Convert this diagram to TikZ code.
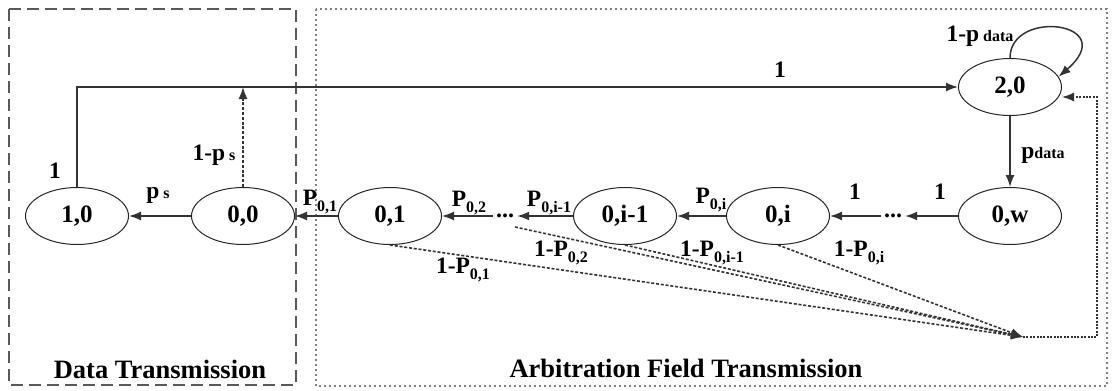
\documentclass[tikz,border=0pt]{standalone}
\usepackage{fontspec}
\setmainfont{Liberation Serif}
\usetikzlibrary{arrows.meta,shapes.geometric}
% subscripts: lowered (for P_{0,j}) and on the baseline (for p_s, p_data)
\newcommand\lowsub[1]{\raisebox{-0.28em}{\fontsize{16}{16}\selectfont #1}}
\newcommand\basesub[1]{{\fontsize{16}{16}\selectfont #1}}

\begin{document}
\begin{tikzpicture}[x=1pt,y=-1pt,
  state/.style={ellipse, draw=black!85, line width=1pt, minimum width=103pt,
    minimum height=57pt, inner sep=0pt, font=\fontsize{25}{25}\selectfont\bfseries},
  lbl/.style={font=\fontsize{23.5}{23.5}\selectfont\bfseries, inner sep=0pt},
  ttl/.style={font=\fontsize{26.5}{26.5}\selectfont\bfseries, inner sep=0pt},
  dots/.style={font=\fontsize{24}{24}\selectfont\bfseries, inner sep=3pt},
  arr/.style={-{Latex[length=12pt,width=9pt]}, line width=1.5pt, draw=black!80},
  dotarr/.style={-{Latex[length=12pt,width=9pt]}, line width=1.6pt, draw=black!80,
    dash pattern=on 3pt off 1.8pt},
  backline/.style={-{Latex[length=12pt,width=9pt]}, line width=1.5pt, draw=black!80,
    dash pattern=on 2pt off 1.4pt},
]
\useasboundingbox (0,0) rectangle (1112,391);

% frames of the two phases
\draw[line width=2.4pt, draw=black!65, dash pattern=on 12pt off 6pt] (9,9) rectangle (296,385);
\draw[line width=1.8pt, draw=black!50, dash pattern=on 1.6pt off 3.4pt] (316,9) rectangle (1107,386);
\node[ttl] (tdata) at (160,369) {Data Transmission};
\node[ttl] (tarb) at (686,368) {Arbitration Field Transmission};

% states
\node[state] (n10) at (77,216) {1,0};
\node[state] (n00) at (243,216) {0,0};
\node[state] (n01) at (390,216) {0,1};
\node[dots] (d1) at (505,216) {...};
\node[state] (n0im1) at (625,216) {0,i-1};
\node[state] (n0i) at (778,216) {0,i};
\node[dots] (d2) at (893,216) {...};
\node[state] (n0w) at (1010,216) {0,w};
\node[state] (n20) at (1010,87) {2,0};

\coordinate (up00) at (243,87);
\coordinate (conv) at (1023,337);
\coordinate (dstart) at (515,227);

% backoff chain
\draw[arr] (n00.west) -- (n10.east);
\draw[arr] (n01.west) -- (n00.east);
\draw[arr] (d1.west) -- (n01.east);
\draw[arr] (n0im1.west) -- (d1.east);
\draw[arr] (n0i.west) -- (n0im1.east);
\draw[arr] (d2.west) -- (n0i.east);
\draw[arr] (n0w.west) -- (d2.east);
\draw[arr] (n20.south) -- (n0w.north);
\draw[arr] (n10.north) |- (n20.west);
\draw[dotarr] (n00.north) -- (up00);
\draw[arr] (n20.north) .. controls (1010,8) and (1122,22) .. (n20.12);

% failed arbitration
\draw[dotarr] (n01.south) -- (conv);
\draw[dotarr] (dstart) -- (conv);
\draw[dotarr] (n0im1.south) -- (conv);
\draw[dotarr] (n0i.south) -- (conv);
\draw[backline] (conv) -- (1097,337) |- ([yshift=-10pt]n20.east);

% transition labels
\node[lbl] (l1) at (780,70) {1};
\node[lbl] (l2) at (55,171) {1};
\node[lbl] (l3) at (214,155) {1-p\,\basesub{s}};
\node[lbl] (l4) at (158,195) {p\,\basesub{s}};
\node[lbl] (l5) at (320,202) {P\lowsub{0,1}};
\node[lbl] (l6) at (469,203) {P\lowsub{0,2}};
\node[lbl] (l7) at (549,203) {P\lowsub{0,i-1}};
\node[lbl] (l8) at (711,200) {P\lowsub{0,i}};
\node[lbl] (l9) at (855,192) {1};
\node[lbl] (l10) at (940,192) {1};
\node[lbl] (l11) at (1043,155) {p\basesub{data}};
\node[lbl] (l12) at (980,36) {1-p\,\basesub{data}};
\node[lbl] (l13) at (463,270) {1-P\lowsub{0,1}};
\node[lbl] (l14) at (561,253) {1-P\lowsub{0,2}};
\node[lbl] (l15) at (712,253) {1-P\lowsub{0,i-1}};
\node[lbl] (l16) at (859,253) {1-P\lowsub{0,i}};
\end{tikzpicture}
\end{document}
